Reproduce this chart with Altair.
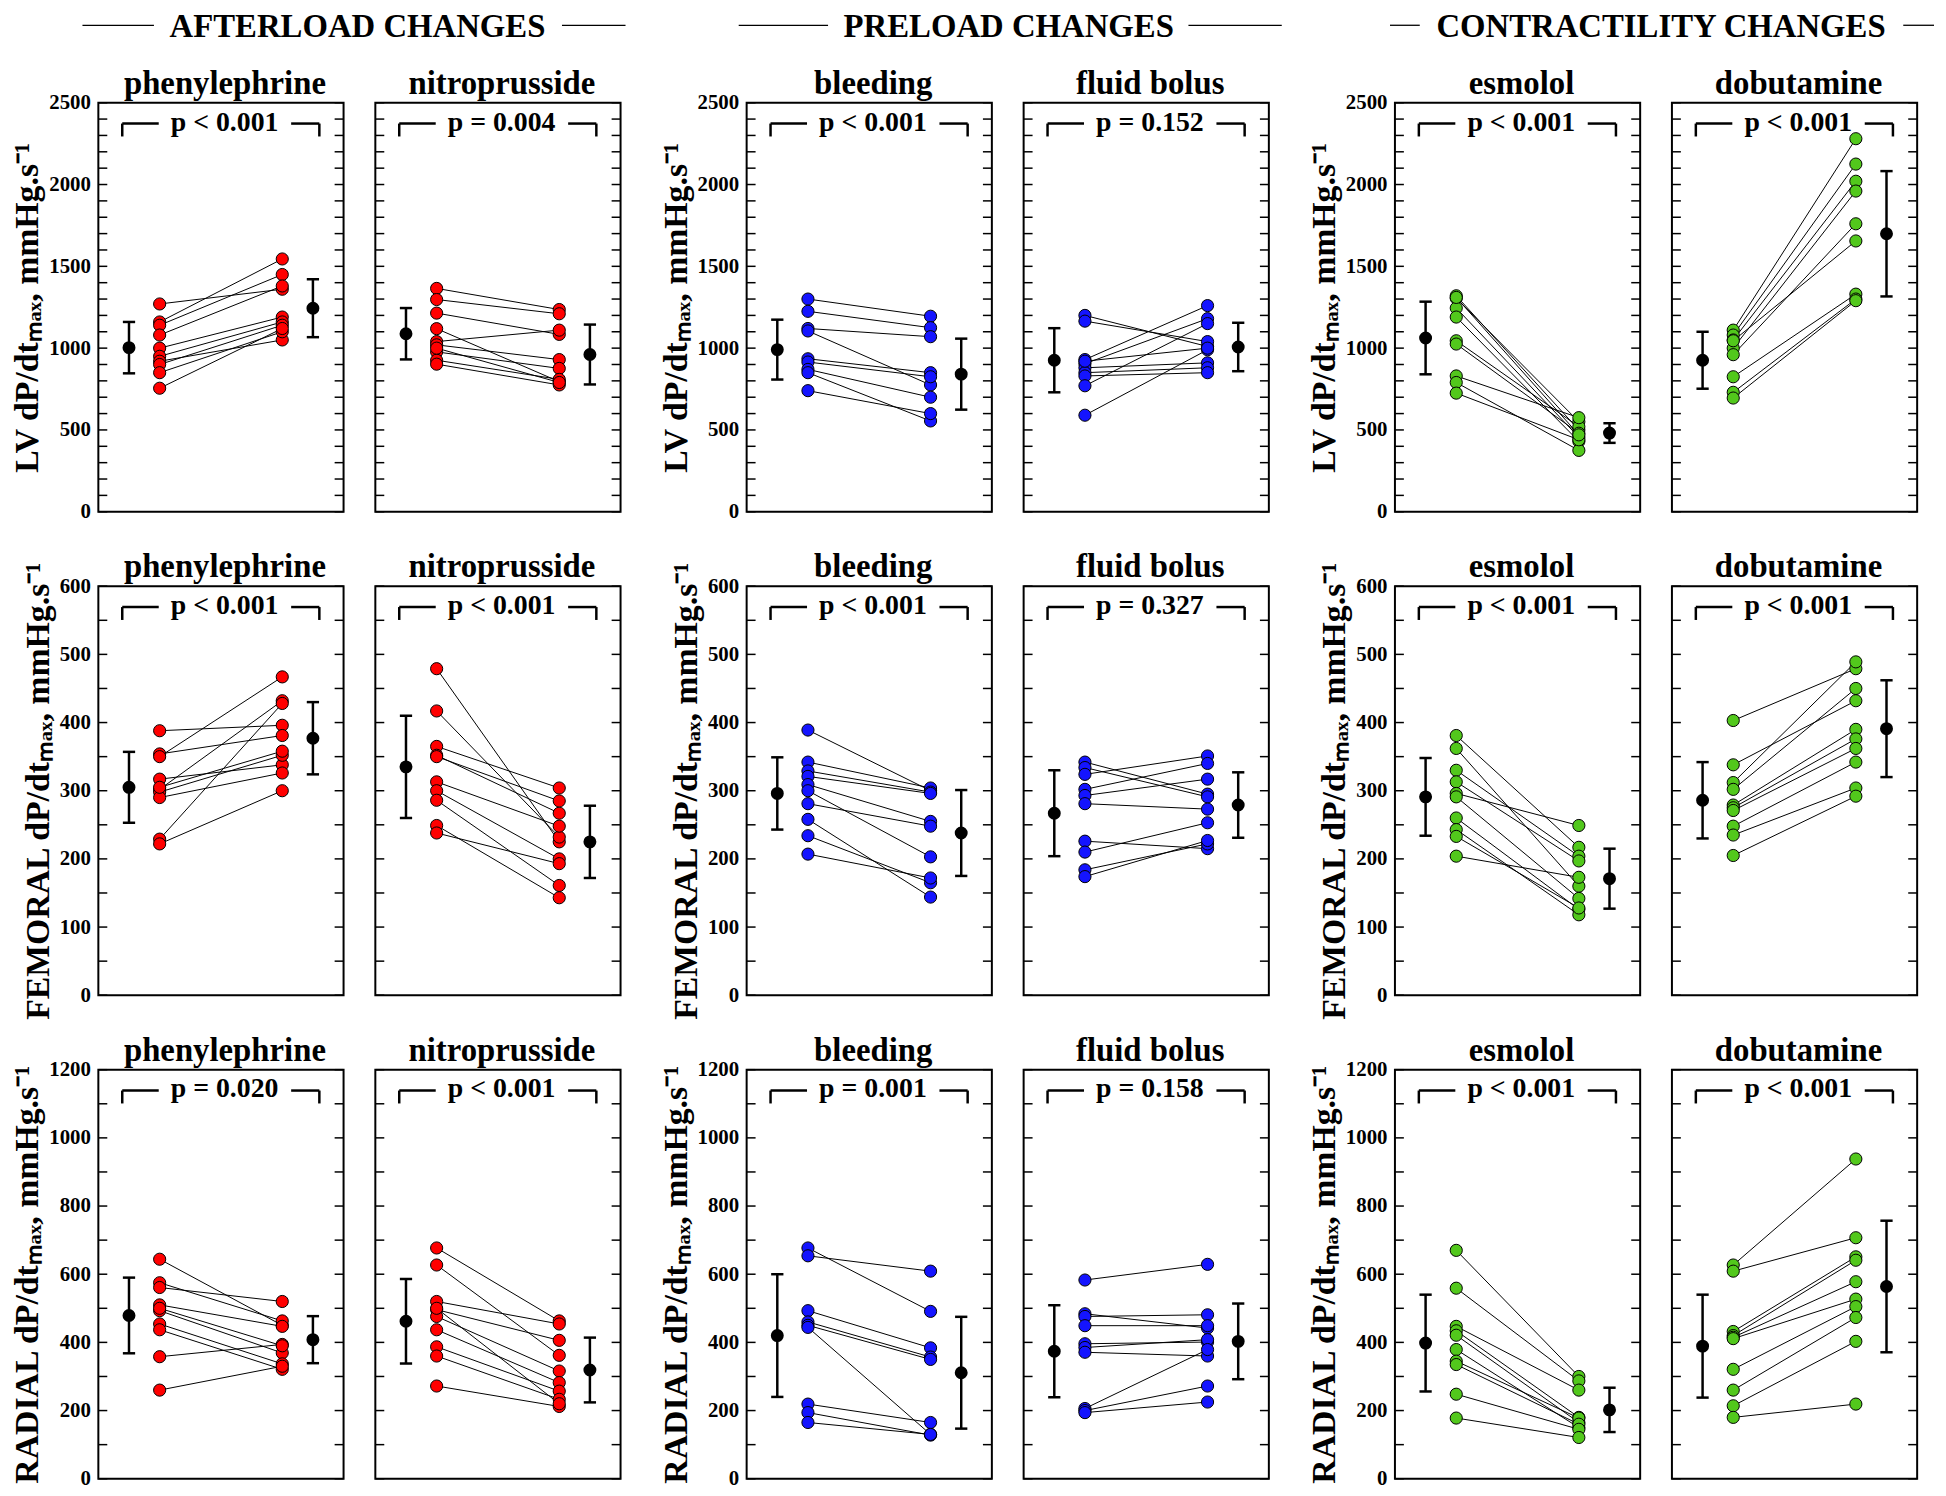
import altair as alt
import pandas as pd

SERIF = "Liberation Serif"

# ---------------- data ----------------
groups = ["AFTERLOAD CHANGES", "PRELOAD CHANGES", "CONTRACTILITY CHANGES"]
drugs = ["phenylephrine", "nitroprusside", "bleeding", "fluid bolus", "esmolol", "dobutamine"]
drug_colors = ["#FF0000", "#FF0000", "#1414FF", "#1414FF", "#52C81C", "#52C81C"]

lv_ymax, fem_ymax, rad_ymax = 2500, 600, 1200
lv_major = [0, 500, 1000, 1500, 2000, 2500]
fem_major = [0, 100, 200, 300, 400, 500, 600]
rad_major = [0, 200, 400, 600, 800, 1000, 1200]
lv_minor = list(range(0, 2501, 100))
fem_minor = list(range(0, 601, 50))
rad_minor = list(range(0, 1201, 100))

lv_title = "LV dP/dtₘₐₓ, mmHg.s⁻¹"
fem_titles = ["FEMORAL  dP/dtₘₐₓ, mmHg.s⁻¹", "FEMORAL dP/dtₘₐₓ, mmHg.s⁻¹", "FEMORAL dP/dtₘₐₓ, mmHg.s⁻¹"]
rad_title = "RADIAL dP/dtₘₐₓ, mmHg.s⁻¹"

lv_p = ["p < 0.001", "p = 0.004", "p < 0.001", "p = 0.152", "p < 0.001", "p < 0.001"]
fem_p = ["p < 0.001", "p < 0.001", "p < 0.001", "p = 0.327", "p < 0.001", "p < 0.001"]
rad_p = ["p = 0.020", "p < 0.001", "p = 0.001", "p = 0.158", "p < 0.001", "p < 0.001"]

# means and SD (baseline, after intervention)
lv_mean_before = [1003, 1088, 991, 926, 1062, 926]
lv_sd_before = [157, 157, 183, 196, 222, 174]
lv_mean_after = [1244, 961, 841, 1007, 481, 1699]
lv_sd_after = [177, 183, 217, 148, 60, 383]

fem_mean_before = [305, 335, 296, 267, 291, 286]
fem_sd_before = [52, 75, 53, 63, 57, 56]
fem_mean_after = [377, 225, 238, 279, 171, 391]
fem_sd_after = [53, 53, 63, 48, 44, 71]

rad_mean_before = [479, 462, 420, 374, 398, 389]
rad_sd_before = [111, 124, 180, 135, 142, 151]
rad_mean_after = [408, 319, 311, 403, 202, 564]
rad_sd_after = [69, 95, 164, 111, 65, 193]

# individual paired values
lv_phe_before = [1270, 1160, 1140, 1080, 1000, 950, 920, 900, 850, 755]
lv_phe_after = [1360, 1545, 1450, 1380, 1190, 1160, 1050, 1140, 1100, 1120]
lv_nit_before = [1365, 1297, 1214, 1119, 1040, 1020, 977, 926, 902, 1000]
lv_nit_after = [1236, 1210, 1084, 795, 1110, 930, 876, 809, 775, 790]
lv_ble_before = [1300, 1225, 1120, 1105, 935, 915, 870, 850, 740]
lv_ble_after = [1195, 1125, 1070, 775, 850, 825, 700, 555, 600]
lv_flu_before = [1200, 1165, 930, 905, 880, 850, 830, 770, 590, 920]
lv_flu_after = [1010, 1040, 1260, 1180, 910, 880, 850, 1150, 990, 1000]
lv_esm_before = [1320, 1305, 1245, 1190, 1045, 1025, 830, 790, 725, 1310]
lv_esm_after = [500, 550, 455, 430, 520, 480, 575, 375, 440, 470]
lv_dob_before = [1110, 1080, 1050, 1000, 960, 1045, 825, 730, 695]
lv_dob_after = [2280, 2125, 2020, 1960, 1760, 1655, 1330, 1300, 1290]

fem_phe_before = [388, 354, 350, 317, 302, 298, 290, 229, 222, 305]
fem_phe_after = [396, 381, 467, 338, 432, 352, 326, 428, 300, 358]
fem_nit_before = [479, 417, 365, 352, 350, 313, 300, 286, 249, 238]
fem_nit_after = [225, 232, 304, 267, 285, 248, 200, 161, 143, 193]
fem_ble_before = [389, 342, 329, 321, 309, 300, 281, 258, 234, 207]
fem_ble_after = [300, 304, 298, 296, 255, 203, 248, 144, 165, 172]
fem_flu_before = [342, 334, 324, 302, 293, 281, 226, 210, 184, 174]
fem_flu_after = [295, 291, 351, 340, 317, 273, 215, 253, 222, 227]
fem_esm_before = [381, 362, 330, 313, 296, 291, 260, 243, 233, 204]
fem_esm_after = [217, 160, 204, 197, 249, 142, 126, 118, 128, 173]
fem_dob_before = [403, 338, 312, 302, 279, 275, 271, 248, 235, 205]
fem_dob_after = [479, 432, 489, 450, 390, 376, 362, 342, 304, 292]

rad_phe_before = [644, 575, 561, 510, 493, 454, 437, 358, 260, 500]
rad_phe_after = [450, 463, 520, 447, 369, 337, 321, 394, 330, 390]
rad_nit_before = [677, 627, 520, 496, 476, 437, 387, 360, 272, 500]
rad_nit_after = [463, 362, 454, 406, 316, 282, 257, 233, 212, 220]
rad_ble_before = [677, 654, 493, 460, 450, 444, 219, 194, 165]
rad_ble_after = [491, 609, 384, 357, 350, 130, 165, 128, 130]
rad_flu_before = [583, 484, 476, 449, 396, 385, 371, 206, 200, 194]
rad_flu_after = [629, 442, 481, 449, 401, 408, 360, 379, 272, 225]
rad_esm_before = [670, 559, 447, 434, 421, 379, 345, 335, 248, 178]
rad_esm_after = [300, 287, 260, 180, 165, 150, 178, 160, 145, 121]
rad_dob_before = [627, 609, 432, 420, 415, 411, 321, 260, 214, 180]
rad_dob_after = [938, 707, 651, 641, 578, 527, 505, 473, 403, 219]

# ---------------- layout / style ----------------
W, H = 247, 412
SPACER_W = 63
TICK_LEN = 9

# header placement relative to the first panel of each group (pixels)
header_center = [261, 264, 268]
header_left_line = [(-16, 56), (-8, 82), (-5, 25)]
header_right_line = [(467, 531), (445, 539), (512, 543)]


def make_panel(before, after, mb, sb, ma, sa, ptxt, color, ymax, major, minor,
               title, ytitle=None, header_idx=None):
    ysc = alt.Scale(domain=[0, ymax], nice=False, zero=False)
    if ytitle is not None:
        yaxis = alt.Axis(values=major, format="d", ticks=False, domain=False, grid=False,
                         labelFont=SERIF, labelFontSize=21, labelFontWeight="bold",
                         labelColor="black", labelPadding=8, labelFlush=False,
                         labelOverlap=False, labelBound=False,
                         title=ytitle, titleFont=SERIF, titleFontSize=34,
                         titleFontWeight="bold", titleColor="black", titlePadding=4)
    else:
        yaxis = None
    Y = alt.Y("v:Q", scale=ysc, axis=yaxis)
    X = alt.X("x:Q", scale=alt.Scale(domain=[0, 8], nice=False, zero=False), axis=None)

    n = len(before)
    pts = pd.DataFrame({"id": list(range(n)) * 2, "x": [2] * n + [6] * n,
                        "v": list(before) + list(after)})
    means = pd.DataFrame({"x": [1, 7], "v": [mb, ma]})
    err = pd.DataFrame({"x": [1, 7], "v": [mb - sb, ma - sa], "v2": [mb + sb, ma + sa]})
    caps = pd.DataFrame({"x": [0.8, 0.8, 6.8, 6.8], "x2": [1.2, 1.2, 7.2, 7.2],
                         "v": [mb - sb, mb + sb, ma - sa, ma + sa]})
    yt = ymax * (1 - 21 / H)
    yk = ymax * (1 - 34 / H)
    bracket = pd.DataFrame({"x": [0.78, 6.29, 0.78, 7.21], "x2": [1.97, 7.21, 0.78, 7.21],
                            "v": [yt, yt, yt, yt], "v2": [yt, yt, yk, yk]})
    ptext = pd.DataFrame({"x": [4.12], "v": [ymax * (1 - 28 / H)], "t": [ptxt]})
    ticks = pd.DataFrame({"v": minor})
    one = pd.DataFrame({"a": [0]})

    layers = [
        alt.Chart(ticks).mark_rule(color="black", strokeWidth=1.5).encode(
            x=alt.value(0), x2=alt.value(TICK_LEN), y=Y),
        alt.Chart(ticks).mark_rule(color="black", strokeWidth=1.5).encode(
            x=alt.value(W - TICK_LEN), x2=alt.value(W), y=Y),
        alt.Chart(bracket).mark_rule(color="black", strokeWidth=2.5).encode(
            x=X, x2="x2:Q", y=Y, y2="v2:Q"),
        alt.Chart(ptext).mark_text(font=SERIF, fontSize=28, fontWeight="bold",
                                   color="black", baseline="alphabetic",
                                   align="center").encode(x=X, y=Y, text="t:N"),
        alt.Chart(pts).mark_line(color="black", strokeWidth=1).encode(
            x=X, y=Y, detail="id:N"),
        alt.Chart(err).mark_rule(color="black", strokeWidth=2.5).encode(
            x=X, y=Y, y2="v2:Q"),
        alt.Chart(caps).mark_rule(color="black", strokeWidth=2.5).encode(
            x=X, x2="x2:Q", y=Y),
        alt.Chart(pts).mark_point(shape="circle", filled=True, fill=color,
                                  fillOpacity=1, stroke="black", strokeWidth=1,
                                  size=150, opacity=1).encode(x=X, y=Y),
        alt.Chart(means).mark_circle(color="black", size=170, opacity=1).encode(x=X, y=Y),
        # panel title
        alt.Chart(one).mark_text(font=SERIF, fontSize=33, fontWeight="bold",
                                 color="black", baseline="alphabetic",
                                 align="center").encode(
            x=alt.value(W / 2 + 4), y=alt.value(-9), text=alt.value(title)),
    ]
    if header_idx is not None:
        lx = header_left_line[header_idx]
        rx = header_right_line[header_idx]
        layers += [
            alt.Chart(one).mark_text(font=SERIF, fontSize=33, fontWeight="bold",
                                     color="black", baseline="alphabetic",
                                     align="center").encode(
                x=alt.value(header_center[header_idx]), y=alt.value(-66),
                text=alt.value(groups[header_idx])),
            alt.Chart(one).mark_rule(color="black", strokeWidth=1.3).encode(
                x=alt.value(lx[0]), x2=alt.value(lx[1]), y=alt.value(-78)),
            alt.Chart(one).mark_rule(color="black", strokeWidth=1.3).encode(
                x=alt.value(rx[0]), x2=alt.value(rx[1]), y=alt.value(-78)),
        ]
    return alt.layer(*layers).properties(width=W, height=H)


def spacer():
    return alt.Chart(pd.DataFrame({"a": [0]})).mark_text(text=" ").encode(
        x=alt.value(0), y=alt.value(0)).properties(
        width=SPACER_W, height=H, view=alt.ViewBackground(strokeOpacity=0))


rows = [
    dict(vals=[(lv_phe_before, lv_phe_after), (lv_nit_before, lv_nit_after),
               (lv_ble_before, lv_ble_after), (lv_flu_before, lv_flu_after),
               (lv_esm_before, lv_esm_after), (lv_dob_before, lv_dob_after)],
         mb=lv_mean_before, sb=lv_sd_before, ma=lv_mean_after, sa=lv_sd_after,
         p=lv_p, ymax=lv_ymax, major=lv_major, minor=lv_minor,
         titles=[lv_title] * 3, header=True),
    dict(vals=[(fem_phe_before, fem_phe_after), (fem_nit_before, fem_nit_after),
               (fem_ble_before, fem_ble_after), (fem_flu_before, fem_flu_after),
               (fem_esm_before, fem_esm_after), (fem_dob_before, fem_dob_after)],
         mb=fem_mean_before, sb=fem_sd_before, ma=fem_mean_after, sa=fem_sd_after,
         p=fem_p, ymax=fem_ymax, major=fem_major, minor=fem_minor,
         titles=fem_titles, header=False),
    dict(vals=[(rad_phe_before, rad_phe_after), (rad_nit_before, rad_nit_after),
               (rad_ble_before, rad_ble_after), (rad_flu_before, rad_flu_after),
               (rad_esm_before, rad_esm_after), (rad_dob_before, rad_dob_after)],
         mb=rad_mean_before, sb=rad_sd_before, ma=rad_mean_after, sa=rad_sd_after,
         p=rad_p, ymax=rad_ymax, major=rad_major, minor=rad_minor,
         titles=[rad_title] * 3, header=False),
]

cells = []
for r in rows:
    for j in range(6):
        first = (j % 2 == 0)
        g = j // 2
        b, a = r["vals"][j]
        cells.append(make_panel(
            b, a, r["mb"][j], r["sb"][j], r["ma"][j], r["sa"][j], r["p"][j],
            drug_colors[j], r["ymax"], r["major"], r["minor"], drugs[j],
            ytitle=r["titles"][g] if first else None,
            header_idx=g if (r["header"] and first) else None))
        if j in (1, 3):
            cells.append(spacer())

chart = alt.concat(*cells, columns=8, spacing={"row": 75, "column": 32},
                   bounds="flush").properties(
    padding={"left": 2, "top": -3, "right": 2, "bottom": 2},
    background="white",
).configure_view(stroke="black", strokeWidth=2)

chart.save("out.html", embed_options={"renderer": "svg", "actions": False})
